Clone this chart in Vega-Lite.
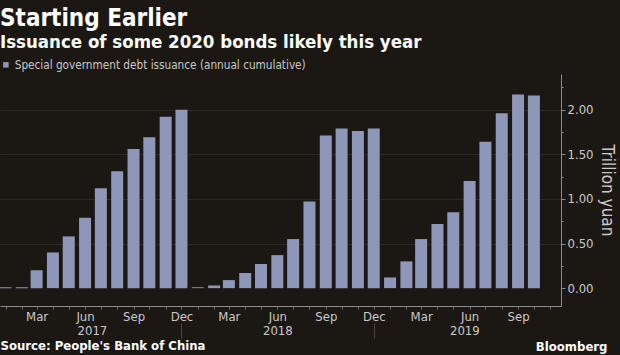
{
  "$schema": "https://vega.github.io/schema/vega-lite/v6.json",
  "width": 561,
  "height": 232,
  "autosize": "none",
  "padding": {"left": 0, "top": 74, "right": 59, "bottom": 49},
  "background": "#1b1814",
  "title": {
    "text": "Starting Earlier",
    "subtitle": "Issuance of some 2020 bonds likely this year",
    "anchor": "start",
    "frame": "group",
    "font": "Liberation Sans Narrow, DejaVu Sans Condensed, sans-serif",
    "subtitleFont": "Liberation Sans Narrow, DejaVu Sans Condensed, sans-serif",
    "fontSize": 24,
    "subtitleFontSize": 18.5,
    "fontWeight": "bold",
    "subtitleFontWeight": "bold",
    "color": "#ffffff",
    "subtitleColor": "#ffffff",
    "offset": 8,
    "subtitlePadding": 2
  },
  "datasets": {
    "bonds": [
      {"date": "2017-01-15", "value": 0.01},
      {"date": "2017-02-15", "value": 0.01},
      {"date": "2017-03-15", "value": 0.2},
      {"date": "2017-04-15", "value": 0.4},
      {"date": "2017-05-15", "value": 0.58},
      {"date": "2017-06-15", "value": 0.79},
      {"date": "2017-07-15", "value": 1.12},
      {"date": "2017-08-15", "value": 1.31},
      {"date": "2017-09-15", "value": 1.56},
      {"date": "2017-10-15", "value": 1.69},
      {"date": "2017-11-15", "value": 1.92},
      {"date": "2017-12-15", "value": 2.0},
      {"date": "2018-01-15", "value": 0.01},
      {"date": "2018-02-15", "value": 0.03},
      {"date": "2018-03-15", "value": 0.09},
      {"date": "2018-04-15", "value": 0.17},
      {"date": "2018-05-15", "value": 0.27},
      {"date": "2018-06-15", "value": 0.37},
      {"date": "2018-07-15", "value": 0.55},
      {"date": "2018-08-15", "value": 0.97},
      {"date": "2018-09-15", "value": 1.71},
      {"date": "2018-10-15", "value": 1.79},
      {"date": "2018-11-15", "value": 1.76},
      {"date": "2018-12-15", "value": 1.79},
      {"date": "2019-01-15", "value": 0.12},
      {"date": "2019-02-15", "value": 0.3},
      {"date": "2019-03-15", "value": 0.55},
      {"date": "2019-04-15", "value": 0.72},
      {"date": "2019-05-15", "value": 0.85},
      {"date": "2019-06-15", "value": 1.2},
      {"date": "2019-07-15", "value": 1.64},
      {"date": "2019-08-15", "value": 1.96},
      {"date": "2019-09-15", "value": 2.17},
      {"date": "2019-10-15", "value": 2.16}
    ]
  },
  "data": {"name": "bonds"},
  "layer": [
    {
      "mark": {"type": "bar", "width": 12},
      "encoding": {
        "x": {
          "field": "date",
          "type": "temporal",
          "scale": {
            "type": "utc",
            "domain": [
              {"year": 2017, "month": 1, "date": 14, "utc": true},
              {"year": 2019, "month": 11, "date": 26, "utc": true}
            ]
          },
          "axis": {
            "orient": "bottom",
            "title": null,
            "values": [
              {"year": 2017, "month": 1, "date": 15, "utc": true},
              {"year": 2017, "month": 2, "date": 15, "utc": true},
              {"year": 2017, "month": 3, "date": 15, "utc": true},
              {"year": 2017, "month": 4, "date": 15, "utc": true},
              {"year": 2017, "month": 5, "date": 15, "utc": true},
              {"year": 2017, "month": 6, "date": 15, "utc": true},
              {"year": 2017, "month": 7, "date": 15, "utc": true},
              {"year": 2017, "month": 8, "date": 15, "utc": true},
              {"year": 2017, "month": 9, "date": 15, "utc": true},
              {"year": 2017, "month": 10, "date": 15, "utc": true},
              {"year": 2017, "month": 11, "date": 15, "utc": true},
              {"year": 2017, "month": 12, "date": 15, "utc": true},
              {"year": 2018, "month": 1, "date": 15, "utc": true},
              {"year": 2018, "month": 2, "date": 15, "utc": true},
              {"year": 2018, "month": 3, "date": 15, "utc": true},
              {"year": 2018, "month": 4, "date": 15, "utc": true},
              {"year": 2018, "month": 5, "date": 15, "utc": true},
              {"year": 2018, "month": 6, "date": 15, "utc": true},
              {"year": 2018, "month": 7, "date": 15, "utc": true},
              {"year": 2018, "month": 8, "date": 15, "utc": true},
              {"year": 2018, "month": 9, "date": 15, "utc": true},
              {"year": 2018, "month": 10, "date": 15, "utc": true},
              {"year": 2018, "month": 11, "date": 15, "utc": true},
              {"year": 2018, "month": 12, "date": 15, "utc": true},
              {"year": 2019, "month": 1, "date": 15, "utc": true},
              {"year": 2019, "month": 2, "date": 15, "utc": true},
              {"year": 2019, "month": 3, "date": 15, "utc": true},
              {"year": 2019, "month": 4, "date": 15, "utc": true},
              {"year": 2019, "month": 5, "date": 15, "utc": true},
              {"year": 2019, "month": 6, "date": 15, "utc": true},
              {"year": 2019, "month": 7, "date": 15, "utc": true},
              {"year": 2019, "month": 8, "date": 15, "utc": true},
              {"year": 2019, "month": 9, "date": 15, "utc": true},
              {"year": 2019, "month": 10, "date": 15, "utc": true},
              {"year": 2019, "month": 11, "date": 15, "utc": true}
            ],
            "labelExpr": "indexof([2, 5, 8, 11], utcmonth(datum.value)) >= 0 ? utcFormat(datum.value, '%b') : ''",
            "labelOverlap": false,
            "labelFlush": false,
            "labelPadding": 1,
            "tickSize": 3,
            "tickColor": "#6a6a6a",
            "domainColor": "#8a8a8a",
            "grid": false
          }
        },
        "y": {
          "field": "value",
          "type": "quantitative",
          "scale": {"domain": [-0.2, 2.4], "nice": false, "zero": false},
          "axis": {
            "orient": "right",
            "title": "Trillion yuan",
            "titleFontSize": 17,
            "values": [0, 0.5, 1, 1.5, 2],
            "format": ".2f",
            "grid": false,
            "tickSize": 4,
            "labelPadding": 2,
            "titlePadding": 4,
            "tickColor": "#8a8a8a",
            "domainColor": "#8a8a8a"
          }
        },
        "y2": {"datum": 0},
        "color": {
          "datum": "Special government debt issuance (annual cumulative)",
          "scale": {"range": ["#8f97b8"]},
          "legend": {
            "orient": "top",
            "title": null,
            "symbolType": "square",
            "symbolSize": 30,
            "symbolStrokeWidth": 0,
            "labelFontSize": 11.7,
            "labelLimit": 0,
            "labelColor": "#c8c8c8",
            "labelFont": "Liberation Sans Narrow, DejaVu Sans Condensed, sans-serif",
            "labelOffset": 3,
            "offset": 2,
            "padding": 0
          }
        }
      }
    },
    {
      "mark": {"type": "bar", "width": 12, "opacity": 0},
      "encoding": {
        "x": {
          "field": "date",
          "type": "temporal",
          "axis": {
            "orient": "bottom",
            "values": [
              {"year": 2017, "month": 6, "date": 28, "utc": true},
              {"year": 2018, "month": 6, "date": 15, "utc": true},
              {"year": 2019, "month": 6, "date": 5, "utc": true}
            ],
            "labelExpr": "utcFormat(datum.value, '%Y')",
            "ticks": false,
            "tickSize": 0,
            "domain": false,
            "grid": false,
            "labelPadding": 18,
            "labelFlush": false,
            "labelOverlap": false,
            "title": "Source: People's Bank of China",
            "titleAnchor": "start",
            "titleAlign": "left",
            "titlePadding": 2,
            "titleFontWeight": "bold",
            "titleFontSize": 13,
            "titleColor": "#ffffff"
          }
        },
        "y": {
          "field": "value",
          "type": "quantitative",
          "axis": {
            "orient": "right",
            "title": null,
            "values": [0.5, 1, 1.5, 2],
            "grid": true,
            "gridColor": "#2d2a25",
            "ticks": false,
            "labels": false,
            "domain": false
          }
        },
        "y2": {"datum": 0}
      }
    },
    {
      "mark": {"type": "bar", "width": 12, "opacity": 0},
      "encoding": {
        "x": {
          "field": "date",
          "type": "temporal",
          "axis": {
            "orient": "bottom",
            "values": [
              {"year": 2017, "month": 12, "date": 15, "utc": true},
              {"year": 2018, "month": 12, "date": 15, "utc": true}
            ],
            "labels": false,
            "domain": false,
            "grid": false,
            "offset": 17,
            "tickSize": 15,
            "tickColor": "#4a4740",
            "title": "Bloomberg",
            "titleX": 607,
            "titleAlign": "right",
            "titlePadding": 2,
            "titleFontWeight": "bold",
            "titleFontSize": 13,
            "titleColor": "#ffffff"
          }
        },
        "y": {
          "field": "value",
          "type": "quantitative",
          "axis": {
            "orient": "right",
            "title": null,
            "values": [0.25, 0.75, 1.25, 1.75, 2.25],
            "grid": false,
            "tickSize": 2,
            "tickColor": "#8a8a8a",
            "labels": false,
            "domain": false
          }
        },
        "y2": {"datum": 0}
      }
    }
  ],
  "resolve": {"axis": {"x": "independent", "y": "independent"}},
  "config": {
    "view": {"stroke": null},
    "font": "Liberation Sans Narrow, DejaVu Sans Condensed, sans-serif",
    "axis": {
      "labelFont": "Liberation Sans Narrow, DejaVu Sans Condensed, sans-serif",
      "titleFont": "Liberation Sans Narrow, DejaVu Sans Condensed, sans-serif",
      "labelFontSize": 13,
      "labelColor": "#c9c9c9",
      "titleColor": "#c9c9c9",
      "titleFontSize": 15,
      "titleFontWeight": "normal"
    }
  }
}
